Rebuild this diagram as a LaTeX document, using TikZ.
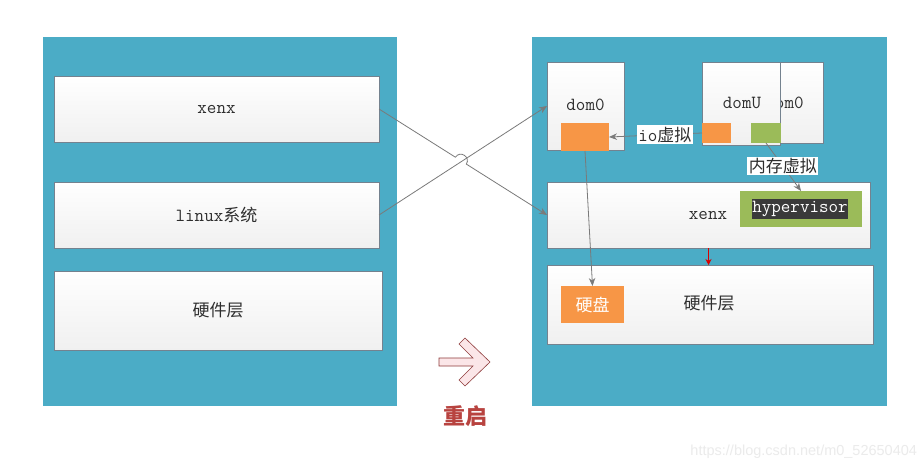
\documentclass[tikz,border=0pt]{standalone}
\usepackage{fontspec}
\newfontfamily\cjk{Noto Sans CJK SC}
\newfontfamily\wmfont{Liberation Sans}
\newcommand\latn{\ttfamily\fontsize{18.5}{20}\selectfont}
\usetikzlibrary{arrows.meta,calc}
\definecolor{panel}{HTML}{4BACC6}
\definecolor{boxline}{HTML}{74828F}
\definecolor{boxbot}{HTML}{F0F0F0}
\definecolor{orng}{HTML}{F79646}
\definecolor{grn}{HTML}{9BBB59}
\definecolor{darklbl}{HTML}{3A3A3A}
\definecolor{redtxt}{HTML}{B8433F}
\definecolor{arrgray}{HTML}{7A7A7A}
\definecolor{pinkfill}{HTML}{FBE6E8}
\definecolor{pinkline}{HTML}{8E3B3B}
\definecolor{txt}{HTML}{2E2E2E}
\begin{document}
\begin{tikzpicture}[x=1pt,y=-1pt,
  every node/.style={inner sep=0pt,outer sep=0pt},
  lbl/.style={font=\fontsize{17}{20}\selectfont,text=txt},
  panelbox/.style={fill=panel},
  layerbox/.style={draw=boxline,line width=0.8pt,top color=white,bottom color=boxbot,lbl},
  orangebox/.style={fill=orng},
  greenbox/.style={fill=grn},
  conn/.style={draw=arrgray,line width=0.8pt,-{Stealth[length=8pt,width=6.5pt]}},
  tag/.style={fill=white,inner sep=1.5pt,lbl}]
\useasboundingbox (0,0) rectangle (924,471);
\fill[white] (0,0) rectangle (924,471);
% panels
\node[panelbox,minimum width=354pt,minimum height=369pt] (lpanel) at (220,221.5) {};
\node[panelbox,minimum width=355pt,minimum height=369pt] (rpanel) at (709.5,221.5) {};
% left layers
\node[layerbox,minimum width=325pt,minimum height=66pt] (lxenx) at (216.5,109) {\latn xenx};
\node[layerbox,minimum width=325pt,minimum height=66pt] (llinux) at (216.5,215) {{\latn linux}{\cjk 系统}};
\node[layerbox,minimum width=328pt,minimum height=79pt] (lhw) at (218,310.5) {\cjk 硬件层};
% right side
\node[layerbox,minimum width=77pt,minimum height=88pt] (dom0) at (585.5,106) {};
\node[lbl] (dom0t) at (585.5,105) {\latn dom0};
\node[orangebox,minimum width=48pt,minimum height=28pt] (o1) at (585,137) {};
\node[layerbox,minimum width=77pt,minimum height=81pt] (dom0b) at (784.5,102.5) {\latn dom0};
\node[layerbox,minimum width=78pt,minimum height=83pt] (domU) at (741,103.5) {};
\node[lbl] (domUt) at (742,103) {\latn domU};
\node[orangebox,minimum width=29pt,minimum height=20pt] (o2) at (716.5,133) {};
\node[greenbox,minimum width=30pt,minimum height=20pt] (g1) at (766,133) {};
\node[layerbox,minimum width=323pt,minimum height=66pt] (rxenx) at (708.5,215) {};
\node[lbl] (rxenxt) at (708,215) {\latn xenx};
\node[greenbox,minimum width=122pt,minimum height=36pt] (hyp) at (801,209) {};
\node[fill=darklbl,text=white,minimum width=96pt,minimum height=20pt] (hypl) at (800,209) {\latn hypervisor};
\node[layerbox,minimum width=326pt,minimum height=79pt] (rhw) at (710,304.5) {};
\node[lbl] (rhwt) at (709,303) {\cjk 硬件层};
\node[orangebox,text=white,font=\fontsize{17}{20}\selectfont,minimum width=63pt,minimum height=37pt] (disk) at (592.5,304.5) {\cjk 硬盘};
% crossing connectors
\coordinate (h1) at ($(lxenx.east)!0.455!(rxenx.west)$);
\coordinate (h2) at ($(lxenx.east)!0.52!(rxenx.west)$);
\draw[conn] (lxenx.east) -- (h1) .. controls ($(h1)+(4.5,-7.2)$) and ($(h2)+(4.5,-7.2)$) .. (h2) -- (rxenx.west);
\draw[conn] (llinux.east) -- (dom0.west);
% inner connectors
\draw[conn] (o2.west) -- node[tag,pos=0.4] (iolbl) {{\latn io}{\cjk 虚拟}} (o1.east);
\draw[conn] (g1.south) -- node[tag,pos=0.48] (memlbl) {\cjk 内存虚拟} (hyp.north);
\draw[conn] (o1.south) -- (disk.north);
\draw[draw=red!85!black,line width=0.8pt,-{Stealth[length=6pt,width=6pt]}] (rxenx.south) -- (rxenx.south |- rhw.north);
% restart arrow
\draw[pinkline,line width=0.6pt,fill=pinkfill] (439,358) -- (473,358) -- (459,344) -- (465,338) -- (490,362) -- (465,386) -- (459,380) -- (473,366) -- (439,366) -- cycle;
\node[text=redtxt,font=\cjk\bfseries\fontsize{22}{24}\selectfont] (restart) at (465,416) {重启};
% watermark
\node[anchor=east,text=black!8,font=\wmfont\fontsize{14.5}{16}\selectfont] (wm) at (917,452) {https://blog.csdn.net/m0\_52650404};
\end{tikzpicture}
\end{document}
